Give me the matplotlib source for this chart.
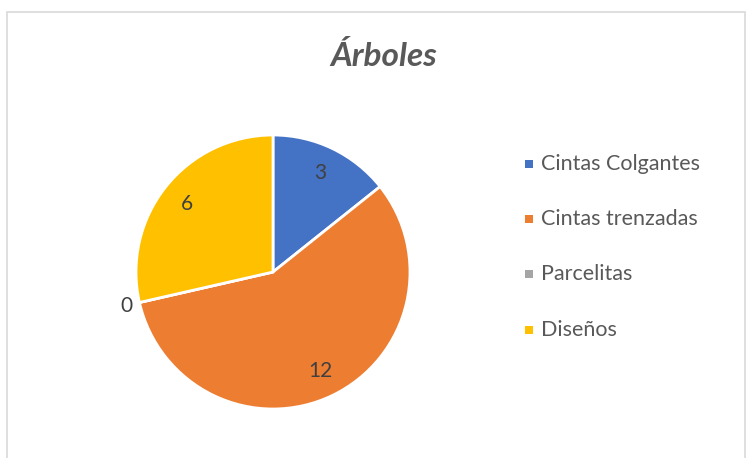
import numpy as np
import matplotlib.pyplot as plt
from matplotlib.patches import Rectangle

plt.rcParams['font.family'] = ['Lato', 'DejaVu Sans']

# Chart data
categories = ['Cintas Colgantes', 'Cintas trenzadas', 'Parcelitas', 'Diseños']
values = [3, 12, 0, 6]
colors = ['#4472C4', '#ED7D31', '#A5A5A5', '#FFC000']
title = 'Árboles'

W, H = 746, 458
fig = plt.figure(figsize=(W / 100, H / 100), dpi=100)

# light chart-area border
fig.patches.append(Rectangle((7 / W, -0.1), (745 - 7) / W, (H - 12) / H + 0.1,
                             transform=fig.transFigure, fill=False,
                             edgecolor='#D9D9D9', linewidth=1.2))

# pie area: centre (273, 272) px, radius 137 px
cx, cy, r = 273, 272, 137
ax = fig.add_axes([(cx - r) / W, (H - cy - r) / H, 2 * r / W, 2 * r / H])
wedges, _ = ax.pie(values, colors=colors, startangle=90, counterclock=False,
                   radius=1.0, wedgeprops=dict(edgecolor='white', linewidth=2))
ax.set_xlim(-1, 1)
ax.set_ylim(-1, 1)
ax.set_aspect('auto')
ax.axis('off')

# data labels
for w, v in zip(wedges, values):
    mid = np.deg2rad((w.theta1 + w.theta2) / 2)
    dist = 0.8 if v > 0 else 1.1
    ax.text(dist * np.cos(mid), dist * np.sin(mid), str(v), ha='center',
            va='center', fontsize=15, color='#404040', clip_on=False)

fig.text(384 / W, 1 - 56 / H, title, ha='center', va='center', fontsize=24,
         fontweight='bold', fontstyle='italic', color='#595959')

# legend
leg_y = [164, 219, 274, 330]
for name, c, y in zip(categories, colors, leg_y):
    fig.patches.append(Rectangle((525 / W, 1 - (y + 4) / H), 8 / W, 8 / H,
                                 transform=fig.transFigure, facecolor=c,
                                 edgecolor='none'))
    fig.text(541 / W, 1 - y / H, name, ha='left', va='center', fontsize=15.5,
             color='#595959')

fig.savefig('out.png', dpi=100)
